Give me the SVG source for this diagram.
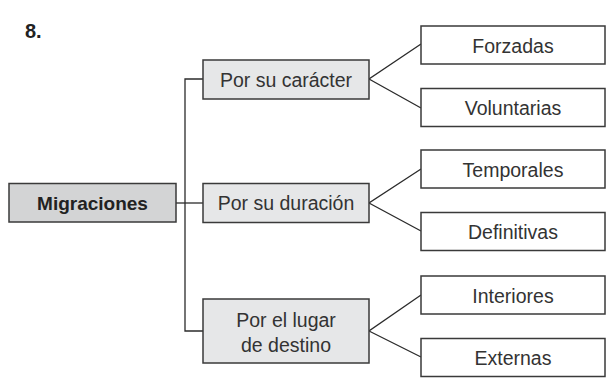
<svg xmlns="http://www.w3.org/2000/svg" width="606" height="378" viewBox="0 0 606 378">
<style>
.box{stroke:#3a3a3a;stroke-width:1.5}
.grey{fill:#e6e7e8}
.dark{fill:#d3d4d5}
.white{fill:#ffffff}
text{font-family:"Liberation Sans",Arial,sans-serif;font-size:19.5px;fill:#333333;text-anchor:middle}
.b{font-weight:bold;font-size:19px;fill:#222222}
.conn{stroke:#2b2b2b;stroke-width:1.3;fill:none}
</style>
<rect width="606" height="378" fill="#ffffff"/>
<text x="25" y="38" class="b" style="text-anchor:start;font-size:20px">8.</text>
<g id="connectors">
<polyline class="conn" points="203,79 185,79 185,331 203,331"/>
<line class="conn" x1="176" y1="203" x2="203" y2="203"/>
<polyline class="conn" points="421,44 369,79 421,108"/>
<polyline class="conn" points="421,169 369,203 421,231"/>
<polyline class="conn" points="421,295 369,331 421,357"/>
</g>
<g id="migraciones">
<rect class="box dark" x="9" y="183.5" width="167" height="38.5"/>
<text x="92.5" y="209.5" class="b">Migraciones</text>
</g>
<g id="caracter">
<rect class="box grey" x="203" y="60" width="166" height="39"/>
<text x="286" y="86.5">Por su carácter</text>
</g>
<g id="duracion">
<rect class="box grey" x="203" y="183.5" width="166" height="39"/>
<text x="286" y="210">Por su duración</text>
</g>
<g id="lugar">
<rect class="box grey" x="203" y="299" width="166" height="64"/>
<text x="286" y="326.5">Por el lugar</text>
<text x="286" y="351.5">de destino</text>
</g>
<g id="forzadas">
<rect class="box white" x="421" y="26" width="184" height="38"/>
<text x="513" y="52.5">Forzadas</text>
</g>
<g id="voluntarias">
<rect class="box white" x="421" y="88.5" width="184" height="38"/>
<text x="513" y="115">Voluntarias</text>
</g>
<g id="temporales">
<rect class="box white" x="421" y="150" width="184" height="38"/>
<text x="513" y="176.5">Temporales</text>
</g>
<g id="definitivas">
<rect class="box white" x="421" y="212.5" width="184" height="38"/>
<text x="513" y="239">Definitivas</text>
</g>
<g id="interiores">
<rect class="box white" x="421" y="276" width="184" height="38"/>
<text x="513" y="302.5">Interiores</text>
</g>
<g id="externas">
<rect class="box white" x="421" y="338.5" width="184" height="38"/>
<text x="513" y="365">Externas</text>
</g>
</svg>
